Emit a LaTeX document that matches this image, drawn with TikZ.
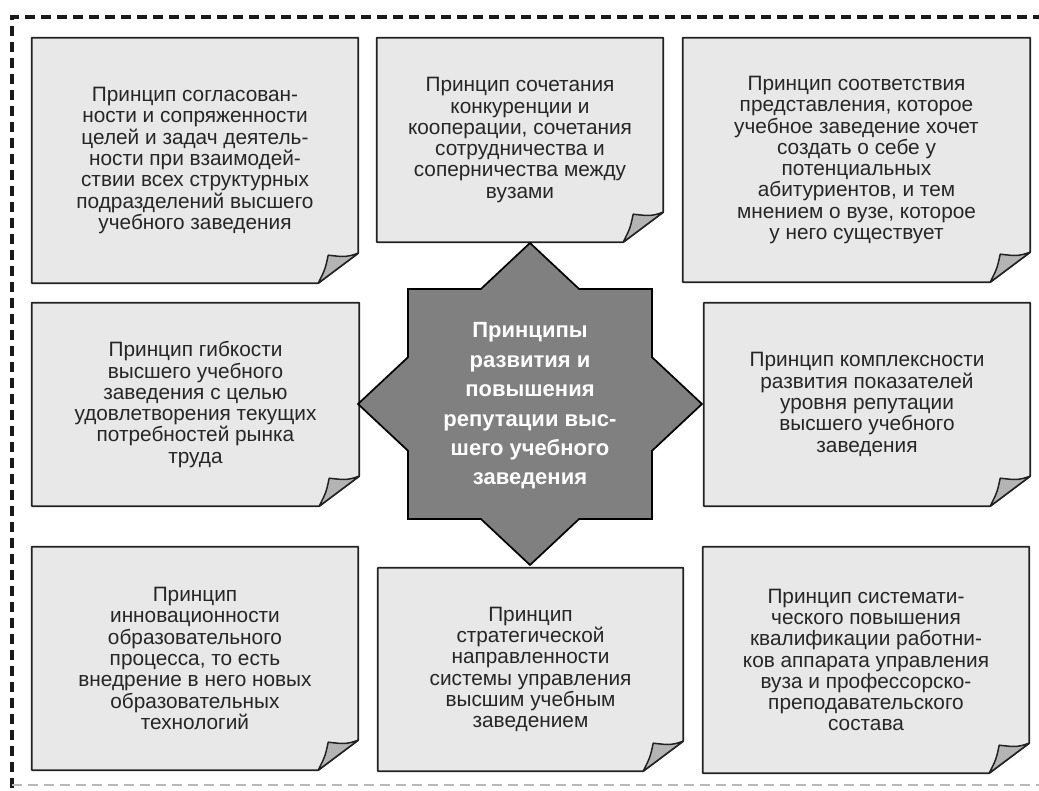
\documentclass[tikz,border=0pt]{standalone}
\usepackage{fontspec}
\setmainfont{Liberation Sans}
\usetikzlibrary{calc}
\pgfdeclarelayer{bg}
\pgfsetlayers{bg,main}
\definecolor{notefill}{HTML}{E8E8E8}
\definecolor{foldfill}{HTML}{B4B4B4}
\definecolor{starfill}{HTML}{808080}
\definecolor{edge}{HTML}{222222}
\definecolor{txt}{HTML}{262626}
\tikzset{
  notetxt/.style={align=center, inner sep=0pt, text=txt, font=\fontsize{20.8}{21.3}\selectfont},
  noteline/.style={draw=edge, fill=notefill, line width=1.7pt, line join=round},
  foldline/.style={draw=edge, fill=foldfill, line width=1.5pt, line join=round},
  starline/.style={draw=black, fill=starfill, line width=1.7pt, line join=miter},
  startxt/.style={align=center, inner sep=0pt, text=white, font=\bfseries\fontsize{22}{29.4}\selectfont},
  frame/.style={draw=black!90, line width=3.2pt, dash pattern=on 10pt off 6pt}
}
\newcommand\notebox[6]{%
  \node[notetxt, minimum width=#3, minimum height=#4] (#1) at (#2) {#6};
  \begin{pgfonlayer}{bg}
  \draw[noteline] (#1.north west) -- (#1.north east) -- ([yshift=30pt]#1.south east) -- ([xshift=-40pt]#1.south east) -- (#1.south west) -- cycle;
  \draw[foldline] ([yshift=30pt]#1.south east) .. controls ([xshift=-12pt,yshift=26pt]#1.south east) .. ([xshift=-30pt,yshift=28pt]#1.south east) .. controls ([xshift=-33pt,yshift=14pt]#1.south east) .. ([xshift=-40pt]#1.south east) -- cycle;
  \end{pgfonlayer}
}
\begin{document}
\begin{tikzpicture}[x=1pt,y=1pt]
\useasboundingbox (0,0) rectangle (1039,790);
% dashed frame
\draw[frame] (12,2) -- (12,773) -- (1045,773);
\draw[draw=gray!55, line width=1.8pt, dash pattern=on 10pt off 6pt] (12,5) -- (1045,5);

% notes
\notebox{n1}{195,629.5}{326pt}{245pt}{}{Принцип согласован-\\ности и сопряженности\\целей и задач деятель-\\ности при взаимодей-\\ствии всех структурных\\подразделений высшего\\учебного заведения}
\notebox{n2}{520,650}{286pt}{204pt}{}{Принцип сочетания\\конкуренции и\\кооперации, сочетания\\сотрудничества и\\соперничества между\\вузами}
\notebox{n3}{856.5,630}{347pt}{244pt}{}{Принцип соответствия\\представления, которое\\учебное заведение хочет\\создать о себе у\\потенциальных\\абитуриентов, и тем\\мнением о вузе, которое\\у него существует}
\notebox{n4}{195.5,385.5}{327pt}{203pt}{}{Принцип гибкости\\высшего учебного\\заведения с целью\\удовлетворения текущих\\потребностей рынка\\труда}
\notebox{n5}{867,385.5}{326pt}{203pt}{}{Принцип комплексности\\развития показателей\\уровня репутации\\высшего учебного\\заведения}
\notebox{n6}{195,131.5}{326pt}{223pt}{}{Принцип\\инновационности\\образовательного\\процесса, то есть\\внедрение в него новых\\образовательных\\технологий}
\notebox{n7}{530.5,120.5}{305pt}{203pt}{}{Принцип\\стратегической\\направленности\\системы управления\\высшим учебным\\заведением}
\notebox{n8}{866,130}{326pt}{226pt}{}{Принцип системати-\\ческого повышения\\квалификации работни-\\ков аппарата управления\\вуза и профессорско-\\преподавательского\\состава}

% star
\draw[starline, shift={(530,386)}] (172,0) -- (122,46.8) -- (122,115) -- (49.1,115) -- (0,161) -- (-49.1,115) -- (-122,115) -- (-122,46.8) -- (-172,0) -- (-122,-46.8) -- (-122,-115) -- (-49.1,-115) -- (0,-161) -- (49.1,-115) -- (122,-115) -- (122,-46.8) -- cycle;
\node[startxt] (c) at (530,384) {Принципы\\развития и\\повышения\\репутации выс-\\шего учебного\\заведения};
\end{tikzpicture}
\end{document}
